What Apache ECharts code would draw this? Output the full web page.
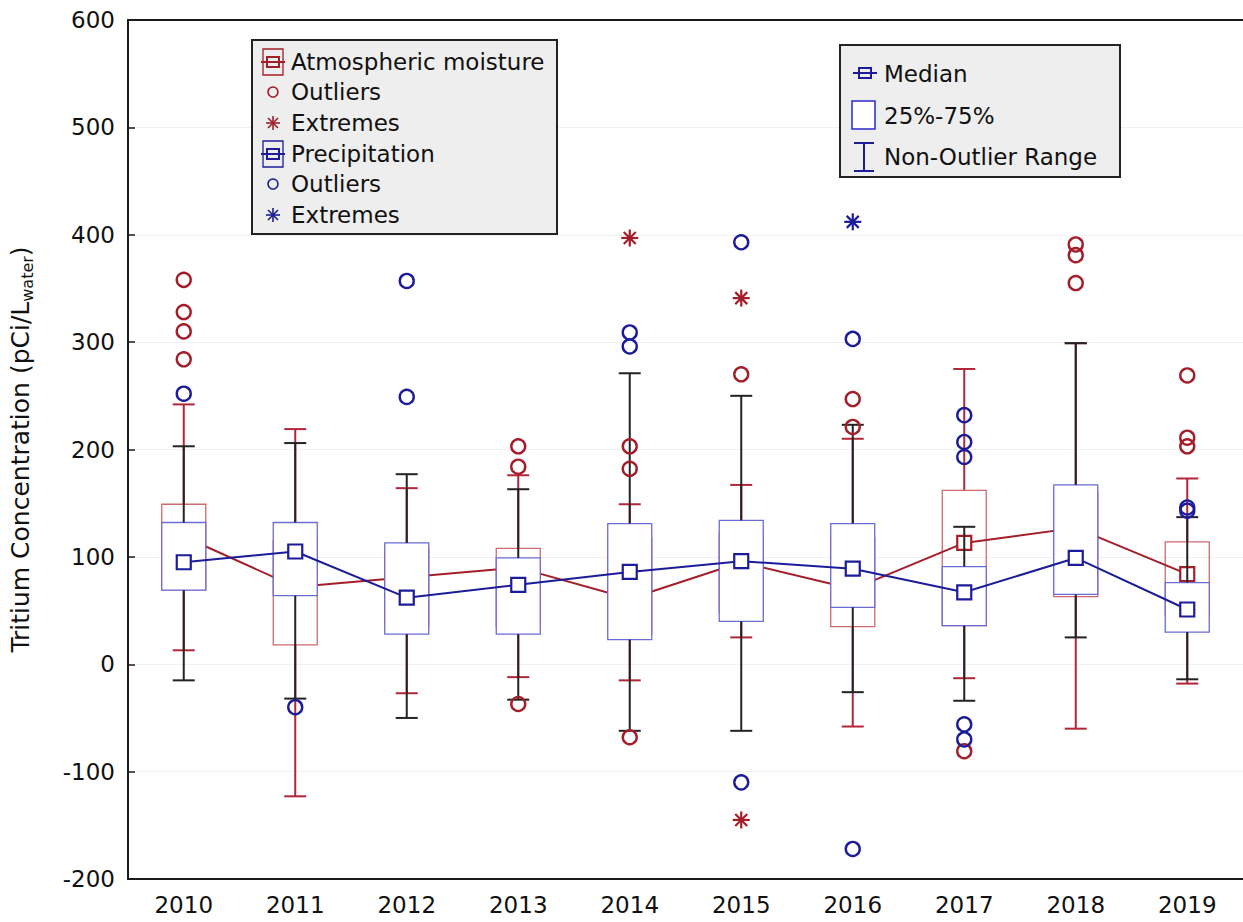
<!DOCTYPE html>
<html>
<head>
<meta charset="utf-8">
<script src="https://cdn.jsdelivr.net/npm/echarts@6/dist/echarts.min.js"></script>
<style>
html,body{margin:0;padding:0;background:#fff;}
#chart{width:1243px;height:922px;}
</style>
</head>
<body>
<div id="chart"></div>
<script>
// ---------- data ----------
const years = ['2010','2011','2012','2013','2014','2015','2016','2017','2018','2019'];
const yTicks = [-200,-100,0,100,200,300,400,500,600];

// Atmospheric moisture: non-outlier min, Q1, median, Q3, non-outlier max
const atmMin = [13, -123, -27, -12, -15, 25, -58, -13, -60, -18];
const atmQ1  = [69, 18, 35, 35, 28, 48, 35, 36, 63, 45];
const atmMed = [119, 72, 81, 90, 61, 95, 70, 113, 127, 84];
const atmQ3  = [149, 115, 108, 108, 118, 122, 118, 162, 160, 114];
const atmMax = [242, 219, 164, 176, 149, 167, 210, 275, 299, 173];
const atmOutliers = [
  [0,358],[0,328],[0,310],[0,284],
  [3,203],[3,184],[3,-37],
  [4,203],[4,182],[4,-68],
  [5,270],
  [6,247],[6,221],
  [7,-81],
  [8,391],[8,381],[8,355],
  [9,269],[9,211],[9,203]
];
const atmExtremes = [[4,397],[5,341],[5,-145]];

// Precipitation
const preMin = [-15, -32, -50, -33, -62, -62, -26, -34, 25, -14];
const preQ1  = [69, 64, 28, 28, 23, 40, 53, 36, 65, 30];
const preMed = [95, 105, 62, 74, 86, 96, 89, 67, 99, 51];
const preQ3  = [132, 132, 113, 99, 131, 134, 131, 91, 167, 76];
const preMax = [203, 206, 177, 163, 271, 250, 223, 128, 299, 137];
const preOutliers = [
  [0,252],
  [1,-40],
  [2,357],[2,249],
  [4,309],[4,296],
  [5,393],[5,-110],
  [6,303],[6,-172],
  [7,232],[7,207],[7,193],[7,-56],[7,-70],
  [9,146],[9,143]
];
const preExtremes = [[6,412]];

// ---------- styles ----------
const RED = '#a41e2a', RED_BOX = '#d06a6e', RED_WH = '#b0263a';
const BLUE = '#1c1c9a', BLUE_BOX = '#6b6bd6', BLACK = '#232323';
const FONT = 'DejaVu Sans';

function boxData(mn,q1,md,q3,mx){ return years.map((y,i)=>[i,mn[i],q1[i],md[i],q3[i],mx[i]]); }

function boxRender(stroke, fill){
  return function(params, api){
    const i = api.value(0);
    const p1 = api.coord([i, api.value(2)]);
    const p3 = api.coord([i, api.value(4)]);
    const w = 44;
    return {type:'rect', shape:{x:p1[0]-w/2, y:p3[1], width:w, height:p1[1]-p3[1]},
            style:{fill:fill, stroke:stroke, lineWidth:1.3}};
  };
}
function whiskerRender(color){
  return function(params, api){
    const i = api.value(0);
    const pMin = api.coord([i, api.value(1)]);
    const p1 = api.coord([i, api.value(2)]);
    const p3 = api.coord([i, api.value(4)]);
    const pMax = api.coord([i, api.value(5)]);
    const x = pMin[0], c = 11;
    const st = {stroke:color, lineWidth:2};
    return {type:'group', children:[
      {type:'line', shape:{x1:x,y1:p3[1],x2:x,y2:pMax[1]}, style:st},
      {type:'line', shape:{x1:x,y1:p1[1],x2:x,y2:pMin[1]}, style:st},
      {type:'line', shape:{x1:x-c,y1:pMax[1],x2:x+c,y2:pMax[1]}, style:st},
      {type:'line', shape:{x1:x-c,y1:pMin[1],x2:x+c,y2:pMin[1]}, style:st}
    ]};
  };
}
function starRender(color){
  return function(params, api){
    const p = api.coord([api.value(0), api.value(1)]);
    const r = 8.5, d = 6;
    const st = {stroke:color, lineWidth:2.2};
    return {type:'group', children:[
      {type:'line', shape:{x1:p[0],y1:p[1]-r,x2:p[0],y2:p[1]+r}, style:st},
      {type:'line', shape:{x1:p[0]-r,y1:p[1],x2:p[0]+r,y2:p[1]}, style:st},
      {type:'line', shape:{x1:p[0]-d,y1:p[1]-d,x2:p[0]+d,y2:p[1]+d}, style:st},
      {type:'line', shape:{x1:p[0]-d,y1:p[1]+d,x2:p[0]+d,y2:p[1]-d}, style:st}
    ]};
  };
}

// ---------- legend graphics ----------
function legText(x, y, t){
  return {type:'text', x:x, y:y, style:{text:t, font:'23px "'+FONT+'"', fill:'#111', textVerticalAlign:'middle'}, z:100};
}
function medianIcon(cx, cy, color, withBox){
  const arr = [];
  if (withBox) arr.push({type:'rect', shape:{x:cx-10, y:cy-13, width:20, height:26}, style:{fill:'none', stroke:color, lineWidth:1.3}, z:100});
  arr.push({type:'line', shape:{x1:cx-12, y1:cy, x2:cx+12, y2:cy}, style:{stroke:color, lineWidth:2}, z:100});
  arr.push({type:'rect', shape:{x:cx-6, y:cy-5, width:12, height:10}, style:{fill:'none', stroke:color, lineWidth:2}, z:100});
  return arr;
}
function circleIcon(cx, cy, color){
  return {type:'circle', shape:{cx:cx, cy:cy, r:5}, style:{fill:'none', stroke:color, lineWidth:1.6}, z:100};
}
function starIcon(cx, cy, color){
  const r = 7, d = 5; const st = {stroke:color, lineWidth:1.6};
  return [
    {type:'line', shape:{x1:cx,y1:cy-r,x2:cx,y2:cy+r}, style:st, z:100},
    {type:'line', shape:{x1:cx-r,y1:cy,x2:cx+r,y2:cy}, style:st, z:100},
    {type:'line', shape:{x1:cx-d,y1:cy-d,x2:cx+d,y2:cy+d}, style:st, z:100},
    {type:'line', shape:{x1:cx-d,y1:cy+d,x2:cx+d,y2:cy-d}, style:st, z:100}
  ];
}
const lx = 273, tx = 291;
const graphics = [
  {type:'rect', shape:{x:252, y:40, width:305, height:194}, style:{fill:'#eeeeee', stroke:'#222', lineWidth:2}, z:99},
  ...medianIcon(lx, 62, RED, true), legText(tx, 62, 'Atmospheric moisture'),
  circleIcon(lx, 92, RED), legText(tx, 92, 'Outliers'),
  ...starIcon(lx, 123, RED), legText(tx, 123, 'Extremes'),
  ...medianIcon(lx, 154, BLUE, true), legText(tx, 154, 'Precipitation'),
  circleIcon(lx, 184, BLUE), legText(tx, 184, 'Outliers'),
  ...starIcon(lx, 215, BLUE), legText(tx, 215, 'Extremes'),

  {type:'rect', shape:{x:840, y:45, width:280, height:132}, style:{fill:'#eeeeee', stroke:'#222', lineWidth:2}, z:99},
  ...medianIcon(865, 73, BLUE, false), legText(884, 74, 'Median'),
  {type:'rect', shape:{x:852, y:101, width:23, height:28}, style:{fill:'#fff', stroke:'#2a2ad0', lineWidth:1.5}, z:100},
  legText(884, 116, '25%-75%'),
  {type:'line', shape:{x1:864, y1:143, x2:864, y2:171}, style:{stroke:BLUE, lineWidth:2}, z:100},
  {type:'line', shape:{x1:854, y1:143, x2:874, y2:143}, style:{stroke:BLUE, lineWidth:2}, z:100},
  {type:'line', shape:{x1:854, y1:171, x2:874, y2:171}, style:{stroke:BLUE, lineWidth:2}, z:100},
  legText(884, 157, 'Non-Outlier Range')
];

// ---------- chart ----------
const chart = echarts.init(document.getElementById('chart'), null, {renderer:'svg'});
const axisLineStyle = {color:'#1a1a1a', width:2};
const option = {
  backgroundColor:'#ffffff',
  animation:false,
  textStyle:{fontFamily:FONT},
  grid:{left:125, right:-2, top:20, bottom:43, containLabel:false},
  xAxis:[
    {type:'category', data:years, position:'bottom', boundaryGap:true,
     axisLine:{onZero:false, lineStyle:axisLineStyle},
     axisTick:{inside:true, alignWithLabel:true, length:7, lineStyle:{color:'#1a1a1a', width:1.5}},
     axisLabel:{fontSize:23, color:'#111', margin:14, fontFamily:FONT},
     splitLine:{show:false}},
    {type:'category', data:years, position:'top', boundaryGap:true,
     axisLine:{onZero:false, lineStyle:axisLineStyle},
     axisTick:{inside:true, alignWithLabel:true, length:7, lineStyle:{color:'#1a1a1a', width:1.5}},
     axisLabel:{show:false}, splitLine:{show:false}}
  ],
  yAxis:[{
    type:'value', min:yTicks[0], max:yTicks[yTicks.length-1], interval:100,
    axisLine:{show:true, onZero:false, lineStyle:axisLineStyle},
    axisTick:{show:true, inside:true, length:7, lineStyle:{color:'#1a1a1a', width:1.5}},
    axisLabel:{fontSize:23, color:'#111', margin:13, fontFamily:FONT},
    splitLine:{show:true, lineStyle:{color:'#f1f1f1', width:1}},
    name:'Tritium Concentration (pCi/L{sub|water})',
    nameLocation:'middle', nameRotate:90, nameGap:93,
    nameTextStyle:{fontSize:25, color:'#111', fontFamily:FONT,
      rich:{sub:{fontSize:16, color:'#111', fontFamily:FONT, padding:[13,0,0,0]}}}
  }],
  graphic: graphics,
  series:[
    {type:'custom', name:'atmWhisker', z:2, data:boxData(atmMin,atmQ1,atmMed,atmQ3,atmMax), renderItem:whiskerRender(RED_WH)},
    {type:'custom', name:'atmBox', z:3, data:boxData(atmMin,atmQ1,atmMed,atmQ3,atmMax), renderItem:boxRender(RED_BOX,'none')},
    {type:'line', name:'Atmospheric moisture', z:4, data:atmMed, symbol:'rect', symbolSize:14,
     lineStyle:{color:RED, width:2}, itemStyle:{color:'#fff', borderColor:RED, borderWidth:2.2}},
    {type:'custom', name:'preBox', z:5, data:boxData(preMin,preQ1,preMed,preQ3,preMax), renderItem:boxRender(BLUE_BOX,'#ffffff')},
    {type:'custom', name:'preWhisker', z:6, data:boxData(preMin,preQ1,preMed,preQ3,preMax), renderItem:whiskerRender(BLACK)},
    {type:'line', name:'Precipitation', z:7, data:preMed, symbol:'rect', symbolSize:14,
     lineStyle:{color:BLUE, width:2}, itemStyle:{color:'#fff', borderColor:BLUE, borderWidth:2.2}},
    {type:'scatter', name:'atmOutliers', z:8, data:atmOutliers, symbol:'circle', symbolSize:14,
     itemStyle:{color:'rgba(255,255,255,0)', borderColor:RED, borderWidth:2.4, opacity:1}},
    {type:'scatter', name:'preOutliers', z:9, data:preOutliers, symbol:'circle', symbolSize:14,
     itemStyle:{color:'rgba(255,255,255,0)', borderColor:BLUE, borderWidth:2.4, opacity:1}},
    {type:'custom', name:'atmExtremes', z:10, data:atmExtremes, renderItem:starRender(RED)},
    {type:'custom', name:'preExtremes', z:10, data:preExtremes, renderItem:starRender(BLUE)}
  ]
};
chart.setOption(option);
</script>
</body>
</html>
